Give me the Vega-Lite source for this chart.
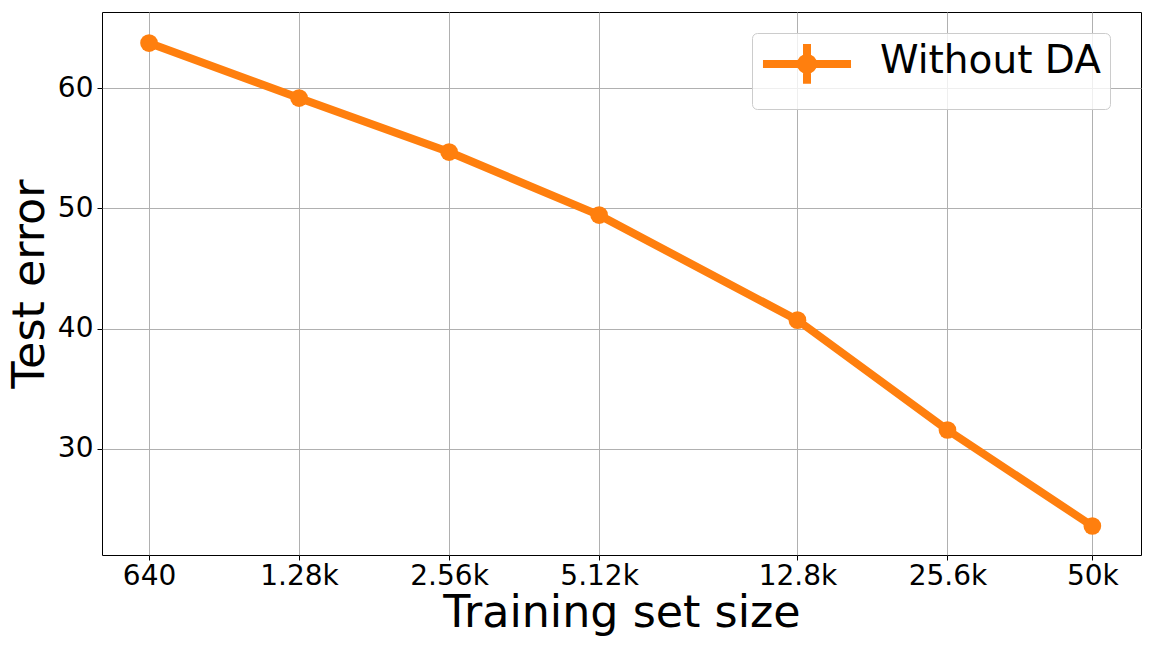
{
  "$schema": "https://vega.github.io/schema/vega-lite/v6.json",
  "width": 1039,
  "height": 543,
  "autosize": "none",
  "padding": {"left": 102, "top": 12, "right": 11, "bottom": 93},
  "background": "white",
  "config": {
    "font": "DejaVu Sans",
    "view": {"stroke": "black", "strokeWidth": 1},
    "axis": {
      "domain": false,
      "grid": true,
      "gridColor": "#b0b0b0",
      "gridWidth": 1,
      "tickColor": "black",
      "tickSize": 5,
      "tickWidth": 1,
      "labelFont": "DejaVu Sans",
      "labelFontSize": 28,
      "labelColor": "black",
      "titleFont": "DejaVu Sans",
      "titleFontSize": 44.4,
      "titleFontWeight": "normal",
      "titleColor": "black"
    },
    "legend": {
      "labelFont": "DejaVu Sans"
    }
  },
  "data": {
    "values": [
      {"size": 640, "error": 63.74, "err": 0.3, "series": "Without DA"},
      {"size": 1280, "error": 59.17, "err": 0.3, "series": "Without DA"},
      {"size": 2560, "error": 54.68, "err": 0.3, "series": "Without DA"},
      {"size": 5120, "error": 49.44, "err": 0.3, "series": "Without DA"},
      {"size": 12800, "error": 40.71, "err": 0.6, "series": "Without DA"},
      {"size": 25600, "error": 31.58, "err": 0.3, "series": "Without DA"},
      {"size": 50000, "error": 23.6, "err": 0.3, "series": "Without DA"}
    ]
  },
  "encoding": {
    "x": {
      "field": "size",
      "type": "quantitative",
      "title": "Training set size",
      "scale": {"type": "log", "domain": [515, 62600], "nice": false},
      "axis": {
        "values": [640, 1280, 2560, 5120, 12800, 25600, 50000],
        "labelExpr": "datum.value < 1000 ? '' + datum.value : (datum.value / 1000) + 'k'",
        "labelFlush": false,
        "labelOverlap": false,
        "labelBaseline": "alphabetic",
        "labelPadding": 24,
        "titleY": 71.5,
        "titleBaseline": "alphabetic"
      }
    },
    "y": {
      "field": "error",
      "type": "quantitative",
      "title": "Test error",
      "scale": {"domain": [21.19, 66.32], "nice": false, "zero": false},
      "axis": {
        "values": [30, 40, 50, 60],
        "labelPadding": 4,
        "titleX": -59,
        "titleY": 271.5,
        "titleAngle": -90,
        "titleBaseline": "alphabetic"
      }
    }
  },
  "layer": [
    {
      "mark": {"type": "line", "strokeWidth": 8, "strokeJoin": "round"},
      "encoding": {
        "color": {
          "field": "series",
          "type": "nominal",
          "scale": {"range": ["#ff7f0e"]},
          "legend": {
            "title": null,
            "orient": "none",
            "legendX": 650,
            "legendY": 21,
            "padding": 8.5,
            "symbolOffset": 27,
            "labelOffset": 53.5,
            "labelFontSize": 39,
            "labelLimit": 500,
            "labelColor": "black",
            "symbolType": "M-2.84,0.19L2.84,0.19M0,-1.09L0,1.47M0.39,0.19A0.39,0.39 0 1,1 -0.39,0.19A0.39,0.39 0 1,1 0.39,0.19Z",
            "symbolSize": 961,
            "symbolStrokeWidth": 8,
            "symbolFillColor": "#ff7f0e",
            "symbolStrokeColor": "#ff7f0e",
            "symbolOpacity": 1,
            "strokeColor": "#cccccc",
            "fillColor": "rgba(255,255,255,0.8)",
            "cornerRadius": 5
          }
        }
      }
    },
    {
      "mark": {"type": "errorbar", "color": "#ff7f0e", "thickness": 8},
      "encoding": {
        "yError": {"field": "err"}
      }
    },
    {
      "mark": {"type": "point", "filled": true, "size": 314, "opacity": 1, "color": "#ff7f0e"},
      "encoding": {}
    }
  ]
}
